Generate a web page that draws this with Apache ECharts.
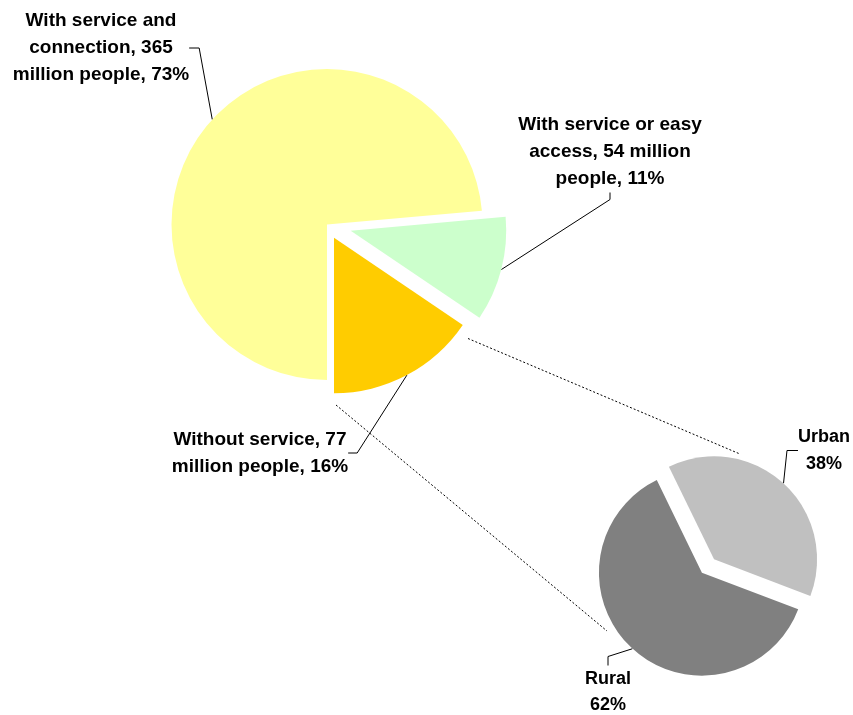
<!DOCTYPE html>
<html>
<head>
<meta charset="utf-8">
<script src="https://cdn.jsdelivr.net/npm/echarts@6/dist/echarts.min.js"></script>
<style>
  html, body { margin: 0; padding: 0; background: #ffffff; }
  #chart { width: 853px; height: 715px; }
</style>
</head>
<body>
<div id="chart"></div>
<script>
// ---------------- data ----------------
const accessCategories = ['With service and connection', 'With service or easy access', 'Without service'];
const accessMillions = [365, 54, 77];
const accessPercents = [73, 11, 16];

const withoutServiceCategories = ['Urban', 'Rural'];
const withoutServicePercents = [38, 62];

// ---------------- styles ----------------
const bigColors = ['#FFFF99', '#CCFFCC', '#FFCC00'];
const smallColors = ['#C0C0C0', '#808080'];
const FONT = '"Liberation Sans", Arial, sans-serif';
const NONE = 'rgba(0,0,0,0)';

const bigCenter = [327, 224.5], bigRadius = 155.5, bigStart = 270;
const smallCenter = [708, 566], smallRadius = 103, smallStart = 116;

const bigExplode = [0, 24.5, 15];
const smallExplode = [9, 9];

const bigLabelPos = [
  { x: 101, y: 48, side: 'right', tick: 10 },
  { x: 610, y: 152, side: 'bottom', tick: 7 },
  { x: 260, y: 453, side: 'right', tick: 9 }
];
const smallLabelPos = [
  { x: 824, y: 450.5, side: 'left', tick: 11 },
  { x: 608, y: 692, side: 'top', tick: 9 }
];

function wrap(text, maxChars) {
  const words = text.split(' ');
  const lines = [];
  let cur = '';
  words.forEach(w => {
    if (cur === '') cur = w;
    else if ((cur + ' ' + w).length <= maxChars) cur += ' ' + w;
    else { lines.push(cur); cur = w; }
  });
  if (cur) lines.push(cur);
  return lines.join('\n');
}

function makeLayout(posArr, explodeArr) {
  return function (p) {
    const c = posArr[p.dataIndex];
    const w = p.labelRect.width, h = p.labelRect.height;
    let a, t;
    if (c.side === 'right') { a = [c.x + w / 2, c.y]; t = [a[0] + c.tick, c.y]; }
    else if (c.side === 'left') { a = [c.x - w / 2, c.y]; t = [a[0] - c.tick, c.y]; }
    else if (c.side === 'top') { a = [c.x, c.y - h / 2]; t = [c.x, a[1] - c.tick]; }
    else { a = [c.x, c.y + h / 2]; t = [c.x, a[1] + c.tick]; }
    const res = { x: c.x, y: c.y, align: 'center', verticalAlign: 'middle' };
    const pts = p.labelLinePoints;
    if (pts && pts.length >= 2) {
      const dx = pts[1][0] - pts[0][0], dy = pts[1][1] - pts[0][1];
      const len = Math.hypot(dx, dy) || 1;
      const e = explodeArr[p.dataIndex];
      res.labelLinePoints = [[pts[0][0] + dx / len * e, pts[0][1] + dy / len * e], t, a];
    }
    return res;
  };
}

const common = {
  type: 'pie',
  clockwise: true,
  avoidLabelOverlap: false,
  silent: true,
  animation: false,
  emphasis: { disabled: true },
  itemStyle: { borderWidth: 0 },
  select: { itemStyle: { borderWidth: 0 } }
};

// big pie: one series per explosion distance
function bigSeries(visible, offset, withLabels) {
  return Object.assign({}, common, {
    center: bigCenter,
    radius: bigRadius,
    startAngle: bigStart,
    selectedMode: offset > 0 ? 'multiple' : false,
    selectedOffset: offset,
    data: accessCategories.map((name, i) => ({
      name: name,
      value: accessMillions[i],
      selected: offset > 0 && visible.indexOf(i) >= 0,
      itemStyle: { color: visible.indexOf(i) >= 0 ? bigColors[i] : NONE }
    })),
    label: withLabels ? {
      show: true, position: 'outside', color: '#000', fontFamily: FONT,
      fontWeight: 'bold', fontSize: 19, lineHeight: 27, align: 'center',
      formatter: p => wrap(p.name + ', ' + accessMillions[p.dataIndex] + ' million people, ' + accessPercents[p.dataIndex] + '%', 20)
    } : { show: false },
    labelLine: withLabels ? {
      show: true, length: 15, length2: 8, smooth: false,
      lineStyle: { color: '#000', width: 1, opacity: 1 }
    } : { show: false },
    labelLayout: withLabels ? makeLayout(bigLabelPos, bigExplode) : undefined
  });
}

function smallSeries(visibleSlices, withLabels) {
  return Object.assign({}, common, {
    center: smallCenter,
    radius: smallRadius,
    startAngle: smallStart,
    selectedMode: visibleSlices ? 'multiple' : false,
    selectedOffset: smallExplode[0],
    data: withoutServiceCategories.map((name, i) => ({
      name: name,
      value: withoutServicePercents[i],
      selected: !!visibleSlices,
      itemStyle: { color: visibleSlices ? smallColors[i] : NONE }
    })),
    label: withLabels ? {
      show: true, position: 'outside', color: '#000', fontFamily: FONT,
      fontWeight: 'bold', fontSize: 18, lineHeight: 26.5, align: 'center',
      formatter: p => p.name + '\n' + withoutServicePercents[p.dataIndex] + '%'
    } : { show: false },
    labelLine: withLabels ? {
      show: true, length: 15, length2: 8, smooth: false,
      lineStyle: { color: '#000', width: 1, opacity: 1 }
    } : { show: false },
    labelLayout: withLabels ? makeLayout(smallLabelPos, smallExplode) : undefined
  });
}

const chart = echarts.init(document.getElementById('chart'), null, { renderer: 'canvas' });
chart.setOption({
  backgroundColor: '#ffffff',
  animation: false,
  graphic: [
    { type: 'line', z: 0, silent: true, shape: { x1: 468, y1: 338.5, x2: 740, y2: 454 },
      style: { stroke: '#000', lineWidth: 1, lineDash: [2, 2] } },
    { type: 'line', z: 0, silent: true, shape: { x1: 336, y1: 405, x2: 607, y2: 631 },
      style: { stroke: '#000', lineWidth: 1, lineDash: [2, 2] } }
  ],
  series: [
    bigSeries([0], 0, true),
    bigSeries([1], bigExplode[1], false),
    bigSeries([2], bigExplode[2], false),
    smallSeries(true, false),
    smallSeries(false, true)
  ]
});
</script>
</body>
</html>
